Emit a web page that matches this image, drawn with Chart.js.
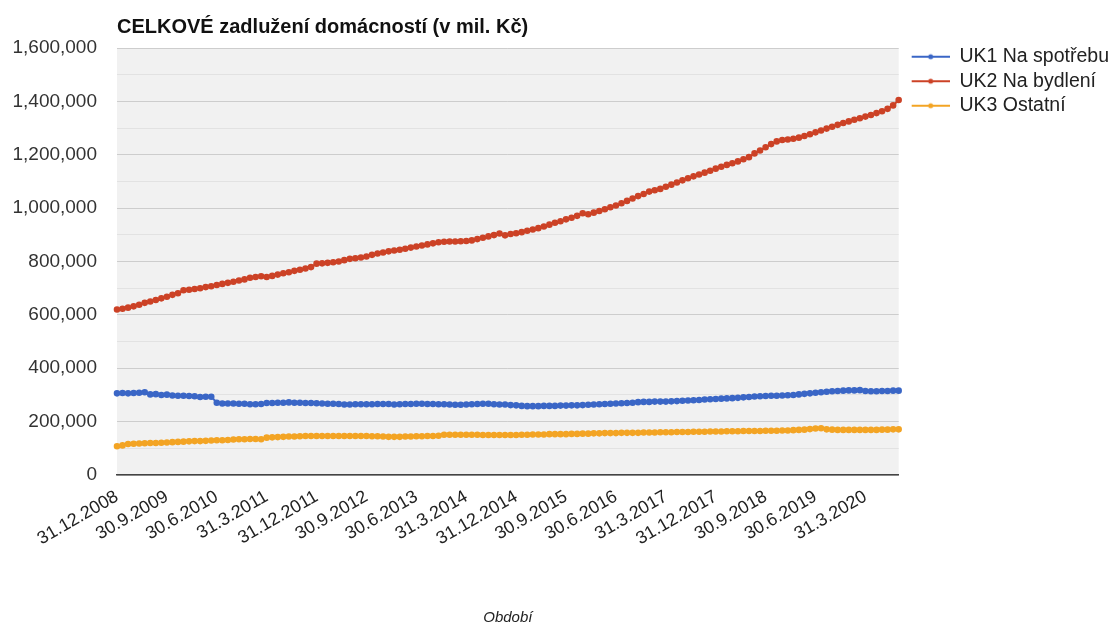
<!DOCTYPE html>
<html>
<head>
<meta charset="utf-8">
<script src="https://cdn.jsdelivr.net/npm/chart.js@4.4.1/dist/chart.umd.min.js"></script>
<style>
  html, body { margin: 0; padding: 0; background: #fff; }
  #wrap { width: 1119px; height: 627px; position: relative; }
</style>
</head>
<body>
<div id="wrap"><canvas id="debtChart" width="1119" height="627"></canvas></div>
<script>
// month-end dates, 31.12.2008 .. 30.9.2020
const categories = [
  '31.12.2008',
  '31.1.2009','28.2.2009','31.3.2009','30.4.2009','31.5.2009','30.6.2009','31.7.2009','31.8.2009','30.9.2009','31.10.2009','30.11.2009','31.12.2009',
  '31.1.2010','28.2.2010','31.3.2010','30.4.2010','31.5.2010','30.6.2010','31.7.2010','31.8.2010','30.9.2010','31.10.2010','30.11.2010','31.12.2010',
  '31.1.2011','28.2.2011','31.3.2011','30.4.2011','31.5.2011','30.6.2011','31.7.2011','31.8.2011','30.9.2011','31.10.2011','30.11.2011','31.12.2011',
  '31.1.2012','29.2.2012','31.3.2012','30.4.2012','31.5.2012','30.6.2012','31.7.2012','31.8.2012','30.9.2012','31.10.2012','30.11.2012','31.12.2012',
  '31.1.2013','28.2.2013','31.3.2013','30.4.2013','31.5.2013','30.6.2013','31.7.2013','31.8.2013','30.9.2013','31.10.2013','30.11.2013','31.12.2013',
  '31.1.2014','28.2.2014','31.3.2014','30.4.2014','31.5.2014','30.6.2014','31.7.2014','31.8.2014','30.9.2014','31.10.2014','30.11.2014','31.12.2014',
  '31.1.2015','28.2.2015','31.3.2015','30.4.2015','31.5.2015','30.6.2015','31.7.2015','31.8.2015','30.9.2015','31.10.2015','30.11.2015','31.12.2015',
  '31.1.2016','29.2.2016','31.3.2016','30.4.2016','31.5.2016','30.6.2016','31.7.2016','31.8.2016','30.9.2016','31.10.2016','30.11.2016','31.12.2016',
  '31.1.2017','28.2.2017','31.3.2017','30.4.2017','31.5.2017','30.6.2017','31.7.2017','31.8.2017','30.9.2017','31.10.2017','30.11.2017','31.12.2017',
  '31.1.2018','28.2.2018','31.3.2018','30.4.2018','31.5.2018','30.6.2018','31.7.2018','31.8.2018','30.9.2018','31.10.2018','30.11.2018','31.12.2018',
  '31.1.2019','28.2.2019','31.3.2019','30.4.2019','31.5.2019','30.6.2019','31.7.2019','31.8.2019','30.9.2019','31.10.2019','30.11.2019','31.12.2019',
  '31.1.2020','29.2.2020','31.3.2020','30.4.2020','31.5.2020','30.6.2020','31.7.2020','31.8.2020','30.9.2020'
];

// labels shown on the x axis
const tickLabels = [
  '31.12.2008','30.9.2009','30.6.2010','31.3.2011','31.12.2011','30.9.2012','30.6.2013','31.3.2014',
  '31.12.2014','30.9.2015','30.6.2016','31.3.2017','31.12.2017','30.9.2018','30.6.2019','31.3.2020'
];

// values in mil. Kč
const uk1Spotreba = [
  306000,307000,306000,307000,308000,310000,302000,303000,300000,301000,298000,297000,297000,
  296000,295000,292000,293000,293000,271000,268000,268000,268000,267000,267000,265000,
  265000,266000,270000,270000,271000,271000,272000,271000,271000,270000,270000,269000,
  268000,267000,267000,266000,264000,264000,265000,265000,265000,265000,266000,266000,
  266000,264000,265000,266000,266000,267000,267000,266000,266000,265000,265000,264000,
  263000,263000,264000,265000,266000,267000,267000,265000,264000,264000,262000,261000,
  259000,258000,258000,258000,259000,259000,259000,260000,260000,261000,261000,262000,
  263000,264000,265000,266000,267000,268000,269000,270000,271000,273000,274000,274000,
  275000,275000,275000,276000,277000,278000,279000,280000,281000,283000,284000,285000,
  286000,287000,288000,289000,291000,292000,294000,295000,296000,297000,297000,298000,
  299000,300000,302000,304000,306000,308000,310000,312000,314000,315000,316000,317000,
  317000,318000,315000,314000,314000,315000,315000,316000,316000
];

const uk2Bydleni = [
  620000,623000,627000,632000,638000,645000,650000,656000,662000,668000,675000,681000,692000,
  694000,697000,700000,704000,707000,712000,716000,720000,724000,729000,733000,739000,
  742000,745000,742000,746000,751000,756000,760000,765000,769000,774000,779000,792000,
  793000,795000,797000,800000,805000,810000,812000,815000,819000,825000,830000,834000,
  838000,841000,844000,848000,852000,856000,860000,864000,868000,872000,874000,875000,
  875000,876000,877000,879000,884000,889000,894000,899000,905000,898000,903000,906000,
  910000,915000,920000,925000,931000,938000,945000,951000,958000,964000,971000,981000,
  977000,983000,989000,996000,1003000,1010000,1018000,1027000,1036000,1045000,1053000,1062000,
  1067000,1072000,1080000,1088000,1096000,1104000,1112000,1119000,1126000,1133000,1140000,1148000,
  1155000,1162000,1168000,1175000,1183000,1191000,1205000,1216000,1228000,1240000,1250000,1255000,
  1257000,1260000,1264000,1270000,1277000,1284000,1291000,1298000,1305000,1312000,1319000,1325000,
  1331000,1337000,1343000,1349000,1356000,1363000,1372000,1385000,1405000
];

const uk3Ostatni = [
  108000,111000,116000,117000,118000,119000,120000,120000,121000,122000,123000,124000,125000,
  126000,127000,127000,128000,129000,130000,130000,131000,133000,134000,134000,135000,
  135000,134000,140000,141000,142000,143000,144000,144000,145000,146000,146000,146000,
  146000,146000,146000,146000,146000,146000,146000,146000,146000,145000,145000,144000,
  143000,143000,143000,144000,144000,145000,145000,146000,146000,147000,151000,151000,
  151000,151000,151000,151000,151000,150000,150000,150000,150000,150000,150000,150000,
  151000,151000,152000,152000,152000,153000,153000,153000,153000,154000,154000,155000,
  155000,156000,156000,157000,157000,157000,158000,158000,158000,158000,159000,159000,
  159000,160000,160000,160000,161000,161000,161000,162000,162000,162000,163000,163000,
  163000,164000,164000,164000,165000,165000,165000,165000,166000,166000,166000,167000,
  167000,168000,169000,170000,172000,174000,175000,171000,170000,169000,169000,169000,
  169000,169000,169000,169000,169000,170000,170000,171000,171000
];

const seriesNames = ['UK1 Na spotřebu', 'UK2 Na bydlení', 'UK3 Ostatní'];
const seriesColors = ['#3a66c6', '#cc4226', '#f3a424'];

const FONT = "'Liberation Sans', Arial, sans-serif";

// line + dot legend marker, with a blank gap on the left
function legendIcon(color) {
    const c = document.createElement('canvas');
    c.width = 46;
    c.height = 8;
    const g = c.getContext('2d');
    g.strokeStyle = color;
    g.lineWidth = 2;
    g.beginPath();
    g.moveTo(8, 4);
    g.lineTo(46, 4);
    g.stroke();
    g.fillStyle = color;
    g.beginPath();
    g.arc(27, 4, 2.5, 0, Math.PI * 2);
    g.fill();
    return c;
}
const icons = seriesColors.map(legendIcon);

// grey plot background
const plotBg = {
    id: 'plotBg',
    beforeDraw(chart) {
        const a = chart.chartArea;
        const ctx = chart.ctx;
        ctx.save();
        ctx.fillStyle = '#f1f1f1';
        ctx.fillRect(a.left, a.top, a.right - a.left, a.bottom - a.top);
        ctx.restore();
    }
};

function makeDataset(i, values) {
    return {
        label: seriesNames[i],
        data: values,
        borderColor: seriesColors[i],
        backgroundColor: seriesColors[i],
        borderWidth: 2,
        pointRadius: 2.3,
        pointStyle: 'circle',
        tension: 0
    };
}

const ctx = document.getElementById('debtChart').getContext('2d');
const chart = new Chart(ctx, {
    type: 'line',
    data: {
        labels: categories,
        datasets: [
            makeDataset(0, uk1Spotreba),
            makeDataset(1, uk2Bydleni),
            makeDataset(2, uk3Ostatni)
        ]
    },
    options: {
        responsive: false,
        animation: false,
        layout: { padding: { top: 0, right: 0, bottom: 0, left: 0 } },
        plugins: {
            title: {
                display: true,
                fullSize: false,
                align: 'start',
                text: 'CELKOVÉ zadlužení domácností (v mil. Kč)',
                color: '#111',
                font: { family: FONT, size: 20, weight: 'bold' },
                padding: { top: 15, bottom: 9 }
            },
            legend: {
                position: 'right',
                align: 'start',
                title: { display: true, text: '', font: { size: 10 }, padding: { top: 15, bottom: 15 } },
                labels: {
                    usePointStyle: true,
                    pointStyleWidth: 46,
                    boxHeight: 8,
                    padding: 5,
                    color: '#222',
                    font: { family: FONT, size: 19.5 },
                    generateLabels(chart) {
                        const items = Chart.defaults.plugins.legend.labels.generateLabels(chart);
                        items.forEach((it, i) => { it.pointStyle = icons[i]; });
                        return items;
                    }
                }
            },
            tooltip: { enabled: false }
        },
        scales: {
            x: {
                grid: { display: false },
                border: { display: true, color: '#444', width: 1.5 },
                ticks: {
                    autoSkip: false,
                    minRotation: 30,
                    maxRotation: 30,
                    color: '#222',
                    font: { family: FONT, size: 18 },
                    callback(value) {
                        const lab = categories[value];
                        return tickLabels.includes(lab) ? lab : '';
                    }
                },
                title: {
                    display: true,
                    text: 'Období',
                    color: '#222',
                    font: { family: FONT, size: 15, style: 'italic' },
                    padding: { top: 64, bottom: 0 }
                },
                afterFit(scale) { scale.height = 152; }
            },
            y: {
                min: 0,
                max: 1600000,
                border: { display: false },
                grid: {
                    drawTicks: false,
                    color(c) { return c.tick.value % 200000 === 0 ? '#cdcdcd' : '#e2e2e2'; }
                },
                ticks: {
                    stepSize: 100000,
                    padding: 20,
                    color: '#333',
                    font: { family: FONT, size: 19 },
                    callback(value) {
                        return value % 200000 === 0 ? value.toLocaleString('en-US') : '';
                    }
                },
                afterFit(scale) { scale.width = 117; }
            }
        }
    },
    plugins: [plotBg]
});
</script>
</body>
</html>
